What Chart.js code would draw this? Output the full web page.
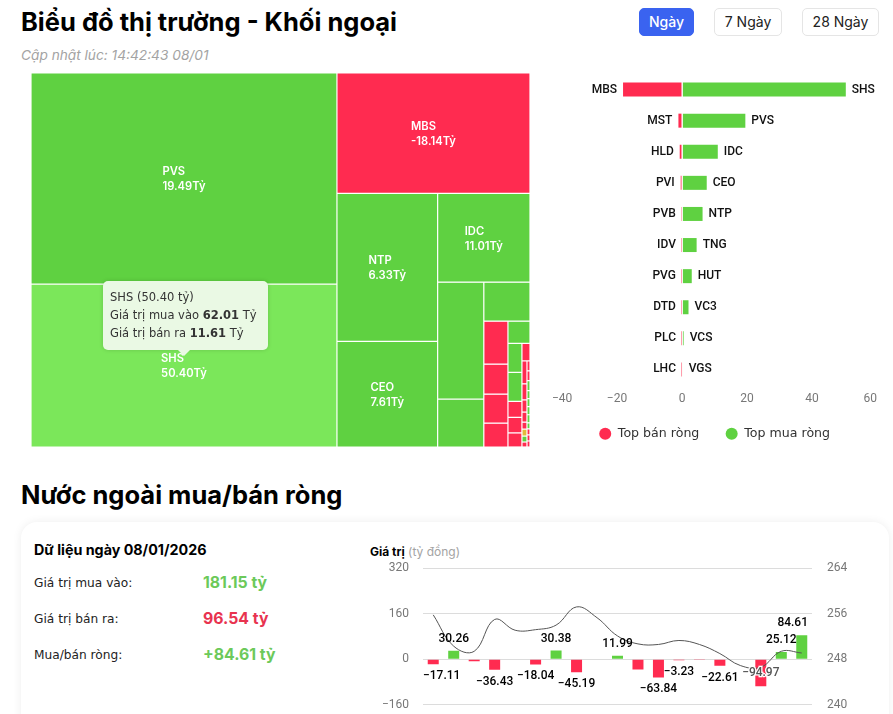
<!DOCTYPE html>
<html lang="vi">
<head>
<meta charset="utf-8">
<title>Khối ngoại</title>
<script src="https://cdn.jsdelivr.net/npm/chart.js@4/dist/chart.umd.min.js"></script>
<style>
  html, body { margin: 0; height: 714px; overflow: hidden; background: #fff; color: #000; font-family: Inter, sans-serif; }
  .abs { position: absolute; white-space: nowrap; }
  h1, h2 { margin: 0; font-size: 25.5px; line-height: 32px; font-weight: 700; }
  .sub { font-size: 13.7px; font-style: italic; color: #a3a3a3; }
  .btn { box-sizing: border-box; height: 28px; line-height: 26px; text-align: center; font-size: 14px; border: 1px solid #e5e5e5; border-radius: 5px; color: #222; }
  .btn.on { background: #3a63f0; border-color: #3a63f0; color: #fff; font-weight: 500; }
  .card { left: 21px; top: 522px; width: 868px; height: 260px; border-radius: 16px; background: #fff; box-shadow: 0 0 10px rgba(0,0,0,.07); }
  .row { font-family: "DejaVu Sans", sans-serif; font-size: 12.2px; color: #222; }
  .val { font-size: 15.8px; font-weight: 700; }
  .tip { left: 103px; top: 281px; width: 165px; height: 69px; box-sizing: border-box; padding: 7px; background: #eaf9e4; border-radius: 5px; font: 11.5px/18px "DejaVu Sans", sans-serif; color: #333; box-shadow: 0 0 4px rgba(0,0,0,.15); }
  .tip:after { content: ""; position: absolute; left: 75px; bottom: -6px; border: 6px solid transparent; border-bottom: 0; border-top-color: #eaf9e4; }
  canvas { position: absolute; }
</style>
</head>
<body>
<h1 class="abs" style="left:21px;top:6px">Biểu đồ thị trường - Khối ngoại</h1>
<div class="abs sub" style="left:21px;top:47px">Cập nhật lúc: 14:42:43 08/01</div>
<div class="abs btn on" style="left:639px;top:8px;width:55px">Ngày</div>
<div class="abs btn" style="left:714px;top:8px;width:68px">7 Ngày</div>
<div class="abs btn" style="left:802px;top:8px;width:77px">28 Ngày</div>

<canvas id="treemap" style="left:31px;top:73px;width:499px;height:374px"></canvas>
<canvas id="top-chart" style="left:545px;top:74px;width:339px;height:383px"></canvas>
<div class="abs tip" id="tip"></div>

<h2 class="abs" style="left:21px;top:479px">Nước ngoài mua/bán ròng</h2>
<div class="abs card"></div>
<div class="abs" style="left:34px;top:541px;font-size:14.3px;font-weight:700">Dữ liệu ngày 08/01/2026</div>
<div class="abs row" style="left:34px;top:576px">Giá trị mua vào:</div>
<div class="abs row" style="left:34px;top:612px">Giá trị bán ra:</div>
<div class="abs row" style="left:34px;top:648px">Mua/bán ròng:</div>
<div class="abs val" style="left:203px;top:573px;color:#6cc95a">181.15 tỷ</div>
<div class="abs val" style="left:203px;top:609px;color:#e8334f">96.54 tỷ</div>
<div class="abs val" style="left:203px;top:645px;color:#6cc95a">+84.61 tỷ</div>
<div class="abs" style="left:370px;top:544px;font-size:12px"><b>Giá trị</b> <span style="color:#a3a3a3">(tỷ đồng)</span></div>
<canvas id="flow-chart" style="left:370px;top:547px;width:490px;height:179px"></canvas>

<script>
const RED = '#ff2b50';
const GREEN = '#5fd141';
const GREEN_HOVER = '#7be75a';
const ORANGE = '#e3b93a';

// treemap: area = traded value, colour = sign of net value
const cellNames = ['PVS', 'SHS', 'MBS', 'NTP', 'CEO', 'IDC'];
const cellSizes = [95.3, 73.6, 34.3, 22.0, 15.7, 12.1, 7.97, 3.27, 2.66, 1.53, 1.07, 1.03, 0.85, 0.72, 0.60, 0.60, 0.33, 0.32, 0.29, 0.21,
  0.17, 0.12, 0.09, 0.075, 0.052, 0.052, 0.044, 0.037,
  0.044, 0.044, 0.044, 0.036, 0.036, 0.036, 0.036, 0.027, 0.027, 0.027, 0.027];
const cellNet = [19.49, 50.40, -18.14, 6.33, 7.61, 11.01, 4.5, 3, 2, -1.1, -0.7, -0.4, -0.2, 0.4, 0.2, 0.1, -0.1, -0.1, -0.1, -0.1,
  -0.1, -0.1, -0.1, -0.1, -0.1, 0, 0.1, -0.1,
  -0.1, -0.1, 0.1, 0.1, 0.1, 0.1, 0.1, 0.1, -0.1, -0.1, -0.1];
const hoveredCell = 'SHS';
const hoveredBuy = 62.01;
const hoveredSell = 11.61;

// how the treemap peels strips off: [number of cells, side]
const stripOrder = [[2, 'left'], [1, 'top'], [2, 'left'], [1, 'top'], [2, 'left'], [1, 'top'], [4, 'left'], [1, 'top'], [5, 'left'], [1, 'top'], [8, 'left'], [11, 'left']];

// top net sellers / buyers
const sellNames = ['MBS', 'MST', 'HLD', 'PVI', 'PVB', 'IDV', 'PVG', 'DTD', 'PLC', 'LHC'];
const sellValues = [-18.14, -1.1, -0.7, -0.4, -0.05, -0.03, -0.02, -0.02, -0.01, -0.01];
const buyNames = ['SHS', 'PVS', 'IDC', 'CEO', 'NTP', 'TNG', 'HUT', 'VC3', 'VCS', 'VGS'];
const buyValues = [50.40, 19.49, 11.01, 7.61, 6.33, 4.5, 3.0, 2.0, 0.5, 0.2];

// daily net flow and the index line
const netValues = [-17.11, 30.26, -7, -36.43, 0, -18.04, 30.38, -45.19, 0, 11.99, -36, -63.84, -3.23, -2.5, -22.61, 0, -94.97, 25.12, 84.61];
const hiddenNetLabels = [2, 4, 8, 10, 13, 15];
const indexValues = [255.8, 250.3, 249.4, 255.0, 253.1, 253.2, 254.0, 257.2, 255.3, 252.1, 250.7, 250.6, 251.3, 250.6, 249.0, 246.9, 246.6, 249.4, 249.1];
const leftTicks = { min: -160, max: 320, step: 160 };
const rightTicks = { min: 240, max: 264, step: 8 };

const TICK_FONT = { family: 'Roboto, sans-serif', size: 12 };
const TICK_COLOR = '#777';
const minus = s => String(s).replace('-', '\u2212');

document.getElementById('tip').innerHTML =
  `${hoveredCell} (${cellNet[cellNames.indexOf(hoveredCell)].toFixed(2)} tỷ)<br>` +
  `Giá trị mua vào <b>${hoveredBuy.toFixed(2)}</b> Tỷ<br>Giá trị bán ra <b>${hoveredSell.toFixed(2)}</b> Tỷ`;

// cuts the unit square into rectangles, each with the area of its value
function layoutCells(sizes) {
  let rect = { x: 0, y: 0, w: 1, h: 1 };
  let next = 0;
  let remaining = sizes.reduce((a, b) => a + b, 0);
  const cells = [];
  stripOrder.forEach(([count, side]) => {
    const group = sizes.slice(next, next + count);
    const sum = group.reduce((a, b) => a + b, 0);
    const part = sum / remaining;
    let offset = 0;
    group.forEach(v => {
      const share = v / sum;
      if (side === 'left') {
        cells.push({ x: rect.x, y: rect.y + offset * rect.h, w: rect.w * part, h: rect.h * share });
      } else {
        cells.push({ x: rect.x + offset * rect.w, y: rect.y, w: rect.w * share, h: rect.h * part });
      }
      offset += share;
    });
    if (side === 'left') {
      rect = { x: rect.x + rect.w * part, y: rect.y, w: rect.w * (1 - part), h: rect.h };
    } else {
      rect = { x: rect.x, y: rect.y + rect.h * part, w: rect.w, h: rect.h * (1 - part) };
    }
    next += count;
    remaining -= sum;
  });
  return cells;
}

class TreemapController extends Chart.DatasetController {
  update(mode) {
    const meta = this._cachedMeta;
    this.updateElements(meta.data, 0, meta.data.length, mode);
  }
  updateElements(elements, start, count, mode) {
    const { xScale, yScale } = this._cachedMeta;
    const cells = layoutCells(this.getDataset().data);
    for (let i = start; i < start + count; i++) {
      const c = cells[i];
      const left = xScale.getPixelForValue(c.x);
      const right = xScale.getPixelForValue(c.x + c.w);
      this.updateElement(elements[i], i, {
        x: (left + right) / 2,
        width: right - left,
        y: yScale.getPixelForValue(c.y),
        base: yScale.getPixelForValue(c.y + c.h),
        horizontal: false,
        inflateAmount: 0,
        enableBorderRadius: false,
        borderSkipped: { top: false, bottom: false, left: false, right: false },
        options: this.resolveDataElementOptions(i, mode)
      }, mode);
    }
  }
}
TreemapController.id = 'treemap';
TreemapController.defaults = { datasetElementType: false, dataElementType: 'bar' };
Chart.register(TreemapController);

const treemapLabels = {
  id: 'treemapLabels',
  afterDatasetsDraw(chart) {
    const { ctx } = chart;
    ctx.save();
    ctx.font = '600 11.2px Inter, sans-serif';
    ctx.fillStyle = '#fff';
    ctx.textBaseline = 'middle';
    chart.getDatasetMeta(0).data.forEach((el, i) => {
      if (!cellNames[i]) return;
      const lines = [cellNames[i], cellNet[i].toFixed(2) + 'Tỷ'];
      const w = Math.max(...lines.map(t => ctx.measureText(t).width));
      const cy = (el.y + el.base) / 2;
      ctx.fillText(lines[0], el.x - w / 2, cy - 6.5);
      ctx.fillText(lines[1], el.x - w / 2, cy + 8.5);
    });
    ctx.restore();
  }
};

new Chart(document.getElementById('treemap'), {
  type: 'treemap',
  data: {
    labels: cellSizes.map((_, i) => cellNames[i] || ''),
    datasets: [{
      data: cellSizes,
      backgroundColor: cellNet.map((v, i) => cellNames[i] === hoveredCell ? GREEN_HOVER : v > 0 ? GREEN : v < 0 ? RED : ORANGE),
      borderColor: '#fff',
      borderWidth: 0.6
    }]
  },
  options: {
    responsive: false,
    animation: false,
    events: [],
    layout: { padding: 0 },
    scales: {
      x: { type: 'linear', min: 0, max: 1, display: false },
      y: { type: 'linear', min: 0, max: 1, reverse: true, display: false }
    },
    plugins: { legend: { display: false }, tooltip: { enabled: false } }
  },
  plugins: [treemapLabels]
});

const barEndLabels = {
  id: 'barEndLabels',
  afterDatasetsDraw(chart) {
    const { ctx } = chart;
    ctx.save();
    ctx.font = '500 12px Roboto, sans-serif';
    ctx.fillStyle = '#111';
    ctx.textBaseline = 'middle';
    chart.getDatasetMeta(0).data.forEach((el, i) => {
      ctx.textAlign = 'right';
      ctx.fillText(sellNames[i], el.x - 6, el.y);
    });
    chart.getDatasetMeta(1).data.forEach((el, i) => {
      ctx.textAlign = 'left';
      ctx.fillText(buyNames[i], el.x + 6, el.y);
    });
    ctx.restore();
  }
};

new Chart(document.getElementById('top-chart'), {
  type: 'bar',
  data: {
    labels: buyNames,
    datasets: [
      { label: 'Top bán ròng', data: sellValues, backgroundColor: RED, barThickness: 14, inflateAmount: 0 },
      { label: 'Top mua ròng', data: buyValues, backgroundColor: GREEN, barThickness: 14, inflateAmount: 0 }
    ]
  },
  options: {
    indexAxis: 'y',
    responsive: false,
    animation: false,
    events: [],
    layout: { padding: { bottom: 7 } },
    scales: {
      x: {
        min: -40, max: 60,
        grid: { drawTicks: false, z: 1, lineWidth: 1, color: c => c.tick.value === 0 ? 'rgba(255,255,255,.8)' : 'transparent' },
        border: { display: false },
        ticks: { stepSize: 20, align: 'inner', maxRotation: 0, autoSkip: false, padding: 7, color: TICK_COLOR, font: TICK_FONT, callback: minus }
      },
      y: { stacked: true, display: false }
    },
    plugins: {
      tooltip: { enabled: false },
      legend: {
        position: 'bottom',
        labels: {
          usePointStyle: true, pointStyle: 'circle', boxHeight: 8.5, padding: 14, color: '#333',
          font: { family: '"DejaVu Sans", sans-serif', size: 12.6 },
          // the vertical gap is also "padding", so the wider gap between items comes from the text
          generateLabels: chart => Chart.defaults.plugins.legend.labels.generateLabels(chart)
            .map((item, i) => ({ ...item, text: i === 0 ? item.text + '\u00a0\u00a0\u00a0' : item.text }))
        }
      }
    }
  },
  plugins: [barEndLabels]
});

const netLabels = {
  id: 'netLabels',
  afterDatasetsDraw(chart) {
    const { ctx, chartArea } = chart;
    ctx.save();
    ctx.font = '500 12px Roboto, sans-serif';
    ctx.textAlign = 'center';
    ctx.textBaseline = 'middle';
    chart.getDatasetMeta(0).data.forEach((el, i) => {
      if (hiddenNetLabels.includes(i)) return;
      const v = netValues[i];
      const text = minus(v.toFixed(2));
      const half = ctx.measureText(text).width / 2;
      const x = Math.min(Math.max(el.x, chartArea.left + half), chartArea.right - 4 - half);
      if (v < -90) {
        // biggest one sits over its own bar
        const y = (el.y + el.base) / 2;
        ctx.lineWidth = 2.5;
        ctx.strokeStyle = '#fff';
        ctx.strokeText(text, x, y);
        ctx.fillStyle = '#555';
        ctx.fillText(text, x, y);
      } else {
        ctx.fillStyle = '#000';
        ctx.fillText(text, x, el.y + (v < 0 ? 12 : -12));
      }
    });
    ctx.restore();
  }
};

new Chart(document.getElementById('flow-chart'), {
  data: {
    labels: netValues.map((_, i) => i + 1),
    datasets: [
      { type: 'bar', data: netValues, yAxisID: 'y', order: 2, barThickness: 11, inflateAmount: 0, backgroundColor: netValues.map(v => v < 0 ? RED : GREEN) },
      { type: 'line', data: indexValues, yAxisID: 'y1', order: 1, borderColor: '#555', borderWidth: 1, pointRadius: 0, tension: 0.4 }
    ]
  },
  options: {
    responsive: false,
    animation: false,
    events: [],
    layout: { padding: { top: 0, bottom: 0 } },
    scales: {
      x: { display: false },
      y: {
        min: leftTicks.min, max: leftTicks.max,
        afterFit: s => { s.width = 53; },
        grid: { color: '#dcdcdc', drawTicks: false },
        border: { display: false },
        ticks: { stepSize: leftTicks.step, padding: 14, color: TICK_COLOR, font: TICK_FONT, callback: minus }
      },
      y1: {
        position: 'right',
        min: rightTicks.min, max: rightTicks.max,
        afterFit: s => { s.width = 48; },
        grid: { display: false },
        border: { display: false },
        ticks: { stepSize: rightTicks.step, padding: 7, color: TICK_COLOR, font: TICK_FONT }
      }
    },
    plugins: { legend: { display: false }, tooltip: { enabled: false } }
  },
  plugins: [netLabels]
});
</script>
</body>
</html>
